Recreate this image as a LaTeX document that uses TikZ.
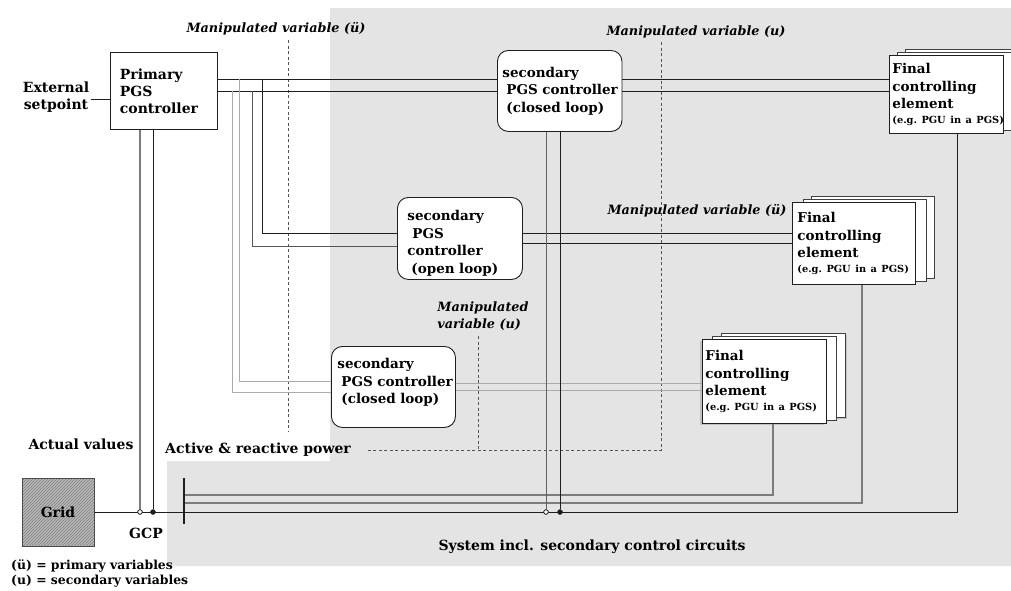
\documentclass[tikz,border=0pt]{standalone}
\usepackage{fontspec}
\setmainfont{DejaVu Serif}
\usetikzlibrary{patterns,shadows}
\definecolor{bgc}{HTML}{E4E4E4}
\definecolor{ink}{HTML}{1E1E1E}
\definecolor{lgr}{HTML}{ABABAB}
\definecolor{mgr}{HTML}{7C7C7C}
\definecolor{dsh}{HTML}{555555}
\definecolor{hatchbg}{HTML}{B8B8B8}
\newcommand{\fbig}{\fontsize{14}{17}\selectfont\bfseries\hyphenpenalty=10000 }
\newcommand{\fboxtxt}{\fontsize{13.5}{17.5}\selectfont\bfseries\hyphenpenalty=10000 }
\newcommand{\fsmall}{\fontsize{9.8}{16}\selectfont\bfseries}
\newcommand{\fital}{\fontsize{12.8}{17}\selectfont\bfseries\itshape}
\newcommand{\fleg}{\fontsize{12.4}{15}\selectfont\bfseries}
\begin{document}
\begin{tikzpicture}[x=1pt,y=-1pt,
  ctrl/.style={draw=ink, fill=white, line width=0.9pt, anchor=north west, align=left, inner ysep=0pt, font=\fboxtxt},
  rctrl/.style={ctrl, rounded corners=11pt},
  backbox/.style={draw=ink!85, fill=white, line width=0.9pt, anchor=north west, inner sep=0pt},
  wire/.style={draw=ink, line width=0.8pt},
  gwire/.style={draw=lgr, line width=0.9pt},
  mwire/.style={draw=mgr, line width=1.1pt},
  dline/.style={draw=dsh, line width=0.8pt, dash pattern=on 3pt off 2.5pt},
  lbl/.style={font=\fbig, inner sep=0pt},
  ilbl/.style={font=\fital, inner sep=0pt},
  jopen/.style={circle, draw=ink, fill=white, line width=0.7pt, inner sep=0pt, minimum size=4.5pt},
  jfull/.style={circle, draw=ink, fill=ink, inner sep=0pt, minimum size=5pt}
]
\useasboundingbox (0,0) rectangle (1011,590);
% background region
\fill[bgc] (330,8) -- (1011,8) -- (1011,566) -- (167,566) -- (167,461) -- (330,461) -- cycle;

% controllers
\node[ctrl, font=\fbig, minimum width=107pt, minimum height=77pt, text width=88pt, inner xsep=9.5pt] (prim) at (110,52) {Primary\\PGS\\controller};
\node[rctrl, minimum width=124.5pt, minimum height=81pt, text width=114.5pt, inner xsep=5pt] (sec1) at (497,50) {secondary\\\hspace*{4pt}PGS~controller\\\hspace*{4pt}(closed~loop)};
\node[rctrl, minimum width=125pt, minimum height=82pt, text width=105pt, inner xsep=10pt] (sec2) at (397,197) {\rule{0pt}{20pt}secondary\\\hspace*{5pt}PGS\\controller\\\hspace*{4pt}(open~loop)};
\node[rctrl, minimum width=124pt, minimum height=81pt, text width=112pt, inner xsep=6pt] (sec3) at (331,346) {secondary\\\hspace*{4pt}PGS~controller\\\hspace*{4pt}(closed~loop)\\[-6pt]\mbox{}};

% final controlling elements (stacked)
\node[backbox, minimum width=114pt, minimum height=78pt] (f1c) at (905,49) {};
\node[backbox, minimum width=114pt, minimum height=78pt] (f1b) at (897,52) {};
\node[ctrl, minimum width=114pt, minimum height=78pt, text width=108pt, inner xsep=3pt] (fin1) at (889,55) {Final\\controlling\\element\\[-3pt]{\fsmall(e.g.~PGU~in~a~PGS)}};

\node[backbox, minimum width=123pt, minimum height=82pt] (f2c) at (811,196) {};
\node[backbox, minimum width=123pt, minimum height=82pt] (f2b) at (803,199) {};
\node[ctrl, minimum width=123pt, minimum height=82pt, text width=113pt, inner xsep=5pt] (fin2) at (792,202) {Final\\controlling\\element\\[-3pt]{\fsmall(e.g.~PGU~in~a~PGS)}};

\node[backbox, minimum width=124pt, minimum height=84pt, drop shadow={opacity=0.35, shadow xshift=2pt, shadow yshift=-2pt}] (f3c) at (721,333) {};
\node[backbox, minimum width=124pt, minimum height=84pt] (f3b) at (712,336) {};
\node[ctrl, minimum width=124pt, minimum height=84pt, text width=118pt, inner xsep=3pt, drop shadow={opacity=0.35, shadow xshift=-2pt, shadow yshift=-2pt}] (fin3) at (702,339) {Final\\controlling\\element\\[-3pt]{\fsmall(e.g.~PGU~in~a~PGS)}};

% grid
\node[draw=ink!80, line width=0.8pt, minimum width=72pt, minimum height=68pt, preaction={fill=hatchbg}, pattern=north east lines, pattern color=black!50, font=\fbig] (grid) at (58,512) {Grid};

% labels
\node[lbl, align=center, inner sep=2pt] (ext) at (56,97) {External\\setpoint};
\node[ilbl] (mv1) at (276,29) {Manipulated variable (ü)};
\node[ilbl] (mv2) at (696,32) {Manipulated variable (u)};
\node[ilbl] (mv3) at (697,211) {Manipulated variable (ü)};
\node[ilbl, align=left] (mv4) at (483,316) {Manipulated\\variable~(u)};
\node[lbl] (act) at (81,444) {Actual values};
\node[lbl, anchor=west] (arp) at (165,450) {Active \& reactive power};
\node[lbl] (gcp) at (146,533) {GCP};
\node[lbl] (sys) at (592,547) {System incl. secondary control circuits};
\node[lbl, anchor=west, align=left, font=\fleg] (leg) at (11,573) {(ü) = primary variables\\(u) = secondary variables};

% dashed reference lines
\draw[dline] (288,40) -- (288,432);
\draw[dline] (661,42) -- (661,450) -- (366,450);
\draw[dline] (478,336) -- (478,450);

% setpoint
\draw[wire] (ext.east |- 0,99) -- (prim.west |- 0,99);

% primary -> top secondary -> top final
\draw[wire] (prim.east |- 0,79) -- (sec1.west |- 0,79);
\draw[wire] (prim.east |- 0,91) -- (sec1.west |- 0,91);
\draw[wire] (sec1.east |- 0,79) -- (fin1.west |- 0,79);
\draw[wire] (sec1.east |- 0,91) -- (fin1.west |- 0,91);

% branches to open-loop and bottom closed-loop secondaries
\coordinate (b1) at (262,79);
\coordinate (b2) at (252,91);
\coordinate (b3) at (239,79);
\coordinate (b4) at (232,91);
\draw[wire] (b1) |- (sec2.west |- 0,233);
\draw[wire, draw=ink!75] (b2) |- (sec2.west |- 0,246);
\draw[gwire] (b3) |- (sec3.west |- 0,381);
\draw[gwire] (b4) |- (sec3.west |- 0,392);

\draw[wire] (sec2.east |- 0,233) -- (fin2.west |- 0,233);
\draw[wire] (sec2.east |- 0,243) -- (fin2.west |- 0,243);
\draw[gwire] (sec3.east |- 0,383) -- (fin3.west |- 0,383);
\draw[gwire] (sec3.east |- 0,390) -- (fin3.west |- 0,390);

% busbar and measurement lines
\coordinate (bbT) at (184,478);
\coordinate (bbB) at (184,524);
\draw[mwire] (bbT |- 0,495) -| (fin3.south -| 773,0);
\draw[mwire] (bbT |- 0,503) -| (fin2.south -| 862,0);
\draw[wire] (grid.east) -| (fin1.south -| 957,0);
\draw[ink, line width=2pt] (bbT) -- (bbB);

% actual value feedback
\node[jopen] (j1) at (140,512) {};
\node[jfull] (j2) at (153,512) {};
\node[jopen] (j3) at (546,512) {};
\node[jfull] (j4) at (560,512) {};
\draw[mwire] (prim.south -| j1) -- (j1);
\draw[wire] (prim.south -| j2) -- (j2);
\draw[wire, draw=ink!70] (sec1.south -| j3) -- (j3);
\draw[wire] (sec1.south -| j4) -- (j4);
\node[jopen] at (j1) {};
\node[jopen] at (j3) {};
\end{tikzpicture}
\end{document}
